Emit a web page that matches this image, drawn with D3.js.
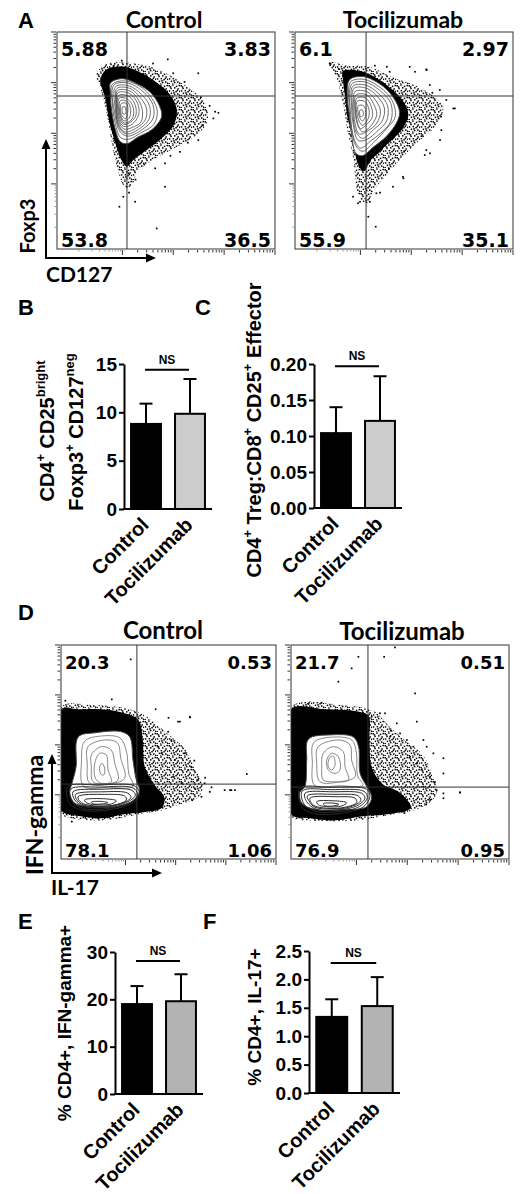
<!DOCTYPE html>
<html>
<head>
<meta charset="utf-8">
<script src="https://cdn.jsdelivr.net/npm/d3@7"></script>
<style>
  body { margin: 0; background: #fff; }
</style>
</head>
<body>
<svg id="fig" width="520" height="1194"></svg>
<script>
// ---------- data ----------
const groups = ["Control", "Tocilizumab"];

// B: CD4+ CD25bright Foxp3+ CD127neg
const tregMean = [8.8, 9.85];
const tregSd = [2.1, 3.6];
const tregTicks = [0, 5, 10, 15];
// C: Treg : effector ratio
const ratioMean = [0.104, 0.121];
const ratioSd = [0.036, 0.062];
const ratioTicks = [0, 0.05, 0.10, 0.15, 0.20];
// E: % CD4+ IFN-gamma+
const ifnMean = [19.0, 19.6];
const ifnSd = [3.8, 5.7];
const ifnTicks = [0, 10, 20, 30];
// F: % CD4+ IL-17+
const il17Mean = [1.34, 1.53];
const il17Sd = [0.31, 0.51];
const il17Ticks = [0, 0.5, 1.0, 1.5, 2.0, 2.5];
// height of the NS bracket, in each panel's units (B, C, E, F)
const nsLevel = [14.4, 0.197, 28.1, 2.29];

// flow plots, axis units 0-100 on both axes
// quadrant percentages: upper-left, upper-right, lower-left, lower-right
const a1Quad = ["5.88", "3.83", "53.8", "36.5"];
const a2Quad = ["6.1", "2.97", "55.9", "35.1"];
const d1Quad = ["20.3", "0.53", "78.1", "1.06"];
const d2Quad = ["21.7", "0.51", "76.9", "0.95"];
// gate position [x, y]
const a1Gate = [32.1, 70.5];
const a2Gate = [32.6, 70.5];
const d1Gate = [35.3, 35.0];
const d2Gate = [35.3, 33.6];

// A control (Foxp3 vs CD127)
const a1Sparse = [[18,80],[22,85],[31,86],[43,84],[52,80],[62,73],[68,67],[69,59],[64,52.5],[54,46.5],[44,41],[37,35.5],[34,29],[31,29],[28,36],[25,50],[22.5,64],[20,74]];
const a1Dense = [[20,79],[23,83],[31,84],[39,81],[46,76.5],[52,71],[55,64],[53.5,57],[48,51],[41,45.5],[35.5,41.5],[32,38],[29.5,41],[27,48],[24,58.5],[22,70],[20,76]];
const a1Outer = [[24.5,76.5],[30,78.5],[37,76],[43,72],[47,66],[48,61],[43.5,55],[37,51.5],[32,48.5],[29,49.5],[26.5,56],[24.8,66],[24.5,72]];
const a1Rings = [
  [[25.3,75.8],[31,77.5],[38,75],[43.5,69.5],[46,63.5],[44.5,57.5],[38.5,53.5],[32.5,50.5],[29,51.5],[26.5,59],[25.3,68]],
  [[26,75.5],[32.5,76.5],[39.5,72.5],[44,66.5],[44,60],[39,55],[32.5,52],[29,54],[26.5,62.5]],
  [[26.8,74.8],[33,75.2],[38.8,71.2],[42.5,65.8],[42.2,59.8],[37.5,55.2],[31.8,53],[28.5,56],[26.8,64.5]],
  [[27.5,74],[33.5,74],[38,70],[41,65],[40.5,59.5],[36,55.5],[31,54],[28,58],[27,67]],
  [[27.8,73],[33.5,72.8],[37.5,68.5],[39.2,63.5],[38.5,58.5],[34.5,56],[30.7,55.3],[28,59.5],[27.4,66]],
  [[28,72],[33.5,71.5],[37,67],[37.5,62],[34.5,57.5],[30.5,56.5],[28,61]],
  [[28.3,70.8],[33,70.3],[36,66],[36,61],[33,58],[30.5,57.5],[28.5,61]],
  [[28.5,69.5],[32.5,69],[35,65],[34.5,60],[31,58],[29,61]],
  [[29,68.3],[32.2,68],[33.8,64.2],[33,60.2],[30.8,59],[29.2,61.5]],
  [[29.5,67],[32,67],[32.5,63.5],[31.5,60],[29.5,62]],
  [[30,65.5],[31.2,65.5],[31.5,62.5],[30.3,62.2]]
];
const a1Dots = [[29.7,86.8],[50.8,87.4],[64.8,81],[53.3,81],[72.5,63.3],[71.7,60.2],[64.8,50.2],[56.4,44.8],[49.5,39.5],[45,37.2],[32.7,34.9],[32,28.7],[49.5,28.7],[30.4,24.1],[35.8,21.8],[28.6,19.5],[45.7,9.5],[74,62.8],[58.5,77],[66,70],[70,66],[67,57],[60,49],[52,43],[40,39],[36,32],[33,26],[26,84.5],[44,85.5]];

// A tocilizumab
const a2Sparse = [[16,86],[24,84.5],[34,84],[45,79],[56,75],[64,70],[68,65],[64,56],[56,49],[47,40],[41,33],[36,27],[33,21],[30,23],[28,29],[27,40],[24,55],[22,67],[19,79]];
const a2Dense = [[22,82],[30,82],[37,79],[44,74],[49,69],[52,62],[49,55],[43,49],[38,44],[34,40],[32,36],[30,37],[28,42],[27,50],[24,61],[23,70],[22,78]];
const a2Outer = [[25,78],[31,79.5],[39,76],[45,70],[48,63],[46.5,58],[42,52],[36,47],[31,43],[28,44],[26,52],[25,61],[24,70]];
const a2Rings = [
  [[25.5,77],[31.5,78.2],[39,74.5],[44.5,68.5],[46,61],[42,55.5],[36,49],[31,45],[28,47.5],[25.8,56],[24.8,66]],
  [[26,76],[32,77],[39,73],[44,67],[44,59],[40,54],[35,50],[30,46.5],[27,51],[25.5,62]],
  [[26.5,75],[32.5,75.5],[38.5,71.5],[42.5,66],[42,59],[38,54.5],[33,50.5],[29,50],[26.8,57],[26,65]],
  [[27,74],[33,74],[38,70],[41,65],[40,59],[36,55],[31,51],[28,54],[26.5,64]],
  [[27.5,72.5],[33,72.5],[37,68.5],[39.2,63.5],[37.5,58],[33.5,54.5],[29.5,53],[27.5,58],[27,65]],
  [[28,71],[33,71],[36,67],[37.5,62],[35,57],[31,54],[28.5,58],[27.5,65]],
  [[28.3,69.5],[32.5,69.5],[35,65.5],[35.5,61],[33,57.5],[30,55.5],[28.5,59]],
  [[28.5,68],[32,68],[34,64],[33.5,60],[31,57],[29,60]],
  [[29,66],[31.5,66],[32.5,62],[31,59],[29.5,61]],
  [[29.8,64],[31,64],[31.2,61.5],[30,61]]
];
const a2Dots = [[15.9,85.6],[36.6,84.5],[43.4,81.7],[52.6,84],[60.2,82.8],[61.8,75.6],[66.4,73.3],[69.4,68.7],[73.3,64.8],[67.1,54.8],[60.2,45.6],[59.5,43.3],[49.5,33.3],[44.9,28.7],[37.3,25.7],[34.3,21.8],[28.9,21.1],[26.6,24.1],[33.6,14.9],[37,10.3],[29.8,21.8],[39,26],[72.6,64.8],[66.5,50.2],[61.9,44.1],[49.7,32.6],[16.1,84.8],[60.4,82.5],[55,81.7],[42.1,84],[63,72],[67,61],[58,52],[50,45],[43,37],[20,83]];

// D control (IFN-gamma vs IL-17)
const d1Sparse = [[0,71],[14,72],[30,70.5],[40,66.5],[49,59],[58,51],[63,41],[66,34],[64,29],[57,26],[48,23],[37,21],[19,18],[5,19],[0,21]];
const d1Dense = [[0,70],[8,70],[19,70],[30,68],[36,65],[38,56],[39,43],[44,34],[48,29],[47,24],[39,22],[30,21],[19,19],[9,20],[3,21],[0,23]];
const d1Outer = [[8,57],[16,59],[28,59.5],[32,57],[33.5,46],[35,37],[36.5,32],[34,27.5],[25,24.5],[14,24.5],[6.5,26],[4,31],[5,35],[7,43]];
const d1Tower = [
  [[11,55],[19,57.5],[27.5,56.5],[30.5,50],[31.5,40],[33.5,34],[22,33.5],[10.5,34],[9.5,45]],
  [[12.6,52.5],[20.3,55.6],[26.2,54.3],[27.8,47.1],[29.6,37.7],[21.9,35],[13.3,35.4],[12.2,44.7]],
  [[14.1,48.6],[18.7,52.5],[23.4,50.9],[25,44.7],[26.5,36.9],[20.3,35],[14.9,36.1],[14.1,43.1]],
  [[15.7,44.7],[18,49.4],[21.1,48.6],[21.9,41.6],[23.4,36.1],[18.7,35.4],[16,37.7]],
  [[18,43.1],[19.1,44.7],[20.3,42.4],[20,39.3],[18.5,39.7]]
];
const d1Lobe = [
  [[3.3,33.8],[17.2,34.6],[34.3,34.1],[36.6,30.7],[34.3,26.8],[21.9,22.9],[9.5,22.9],[4,26]],
  [[4.5,32.6],[18,33.6],[33.5,33.2],[35.6,30.3],[32.8,26.8],[21,23.5],[10.2,23.6],[5.2,26.8]],
  [[5.6,31.4],[18.7,32.6],[32.7,32.2],[34.6,29.9],[31.2,26.8],[20.3,24.2],[11,24.4],[6.4,27.6]],
  [[6.8,30.2],[19.5,31.4],[31,30.8],[32.5,28.7],[28.2,26],[18,24.5],[10.2,25.3],[7.2,27.9]],
  [[7.9,29.1],[20.3,30.2],[29.6,29.4],[30.4,27.6],[25,25.2],[15.7,24.8],[9.5,26.3]],
  [[11,27.6],[18.7,28.2],[25.7,27.2],[23.4,25.7],[15.7,25.4],[11.8,26.3]],
  [[14.1,26.6],[18.7,26.9],[21.9,26.3],[18.7,25.7],[14.9,25.8]]
];
const d1Dots = [[59.9,66.5],[54.4,64.2],[49.8,59.5],[45.1,52.5],[51.3,55.6],[46.7,49.4],[52.9,46.3],[57.5,49.4],[60.6,43.1],[63.7,36.9],[59.1,41.6],[66.8,35.4],[69.2,31.4],[76.1,32.2],[79.2,32.2],[65.3,29.1],[62.2,33],[52.1,38.5],[56,35.4],[32.4,93.3],[23.6,74.6],[86.4,39.7],[78.6,32.2],[80.9,32.2],[60,66.2],[55.3,64.2],[44,70],[50,66],[62,46],[67,38],[70,33.5],[61,27.5],[5,17.5],[2,74]];

// D tocilizumab
const d2Sparse = [[0,71],[22.5,72],[38,69],[45,62],[52,55.6],[61,48],[65,38.5],[67,32],[65,27.6],[57,23],[45,20.6],[30,18],[9,18],[0,20]];
const d2Dense = [[0,70],[15,70],[30,69],[35.5,67],[36,56],[37,43],[42,35],[50,31],[55,24],[45,21],[33,20],[19,18],[9,19],[0,21]];
const d2Outer = [[8,56],[18,58],[28.6,57],[31,52.5],[31.7,40],[34.7,34],[37,29],[34.7,24.4],[24,23],[12,23],[5,26],[4,31],[6.4,34],[7.2,46]];
const d2Tower = [
  [[10.5,54.5],[20,57],[28,55.5],[30,49.5],[30.5,39],[33,34.5],[22,34.2],[10.8,34.5],[9.8,45]],
  [[12.5,52.5],[22.5,55.6],[27.1,53.3],[27.8,46.3],[29.4,38.5],[22.5,36.1],[13.3,36.1],[11.8,44.7]],
  [[14.8,49.4],[19.4,52.5],[24,50.1],[24.8,43.1],[26.3,36.9],[19.4,36.1],[14.8,36.9],[14.1,43.1]],
  [[16.4,46.3],[18.7,49.4],[21.7,47.8],[22.5,41.6],[20.2,40],[17.1,41.6]],
  [[17.6,47.1],[19.4,48.1],[20.2,43.9],[18.7,41.6],[17.1,43.1]]
];
const d2Lobe = [
  [[4.1,33],[17.9,33.5],[34.7,32.6],[36.2,29.1],[33.2,24.4],[22.5,21.3],[10.2,21.3],[4.9,24.4]],
  [[5.2,31.8],[18.6,32.4],[33.5,31.6],[35,28.7],[31.6,24.6],[21.7,22.1],[11,22.3],[6,25.6]],
  [[6.4,30.7],[19.4,31.4],[32.4,30.7],[33.9,28.4],[30.1,24.8],[21,22.9],[11.8,23.2],[7.2,26.8]],
  [[7.5,29.5],[20.2,30.2],[30.8,29.5],[32,27.3],[27.5,24.5],[18.7,23.3],[11,24.2],[8.6,26.6]],
  [[8.7,28.4],[21,29.1],[29.4,28.4],[30.1,26.3],[24.8,24.2],[16.4,23.7],[10.2,25.2]],
  [[11.8,26.8],[19.4,27.2],[25.5,26.3],[23.3,24.8],[16.4,24.4],[12.5,25.4]],
  [[14.8,25.9],[19.4,26.1],[22,25.5],[19.4,24.8],[15.6,24.9]]
];
const d2Dots = [[23.2,69.9],[40.8,68.1],[43.1,68.1],[37,66.5],[48.5,63.4],[57.7,64.2],[50,58.7],[45.4,57.2],[53.1,55.6],[60.7,55.6],[62.2,52.5],[56.1,52.5],[54.6,47.8],[65.3,49.4],[69.9,47.1],[69.9,40],[57.7,44.7],[63.8,38.5],[66.8,32.2],[69.9,30.7],[69.9,28.4],[77.5,31],[60.7,33.8],[63.8,27.6],[42.7,94.5],[56.9,77.4],[21.7,82.9],[30.9,94.5],[27.8,89.1],[77.5,31.2],[47.7,98.9],[8,72.5],[14,73],[46,60],[60,42],[66,36],[62,25.5],[52,21.5]];

// ---------- drawing ----------
const FL = "Lato, 'Open Sans', sans-serif";
const FQ = "'DejaVu Sans', Verdana, sans-serif";
const FA = "'Liberation Sans', Arial, Helvetica, sans-serif";

const svg = d3.select("#fig");
const defs = svg.append("defs");

// irregular stipple used for the thin edge of each event cloud
const pat = defs.append("pattern")
  .attr("id", "stip")
  .attr("width", 12).attr("height", 12)
  .attr("patternUnits", "userSpaceOnUse");
[[0.5,1],[4.2,0.3],[7.8,1.6],[10.5,0.8],[2.3,3.7],[6,3.1],[9.4,4.2],[0.8,6.2],[4.6,5.9],
 [7.3,7],[11,6.6],[2.7,8.6],[5.9,9.8],[9,9.3],[0.4,10.9],[3.9,11.4],[7.6,11.8],[10.9,10.5],
 [1.8,2.2],[8.6,5.7],[5.2,8.1]].forEach(function(p) {
  pat.append("rect").attr("x", p[0]).attr("y", p[1]).attr("width", 1.5).attr("height", 1.5).attr("fill", "#000");
});

function label(txt, x, y, size, family, anchor) {
  return svg.append("text")
    .attr("x", x).attr("y", y)
    .attr("font-family", family)
    .attr("font-weight", "bold")
    .attr("font-size", size)
    .attr("text-anchor", anchor || "start")
    .attr("fill", "#000")
    .text(txt);
}

// text with superscripts, rotated about its centre
function richLabel(x, y, parts, size, rot) {
  const t = svg.append("text")
    .attr("transform", `translate(${x},${y}) rotate(${rot})`)
    .attr("text-anchor", "middle")
    .attr("font-family", FA)
    .attr("font-weight", "bold")
    .attr("font-size", size);
  let up = false;
  parts.forEach(function(p) {
    const sup = p[1] === 1;
    let dy = 0;
    if (sup && !up) dy = -0.42 * size;
    if (!sup && up) dy = 0.42 * size;
    up = sup;
    t.append("tspan")
      .attr("dy", dy)
      .attr("font-size", sup ? size * 0.65 : size)
      .text(p[0]);
  });
}

function flowPlot(box, d) {
  const x = d3.scaleLinear().domain([0, 100]).range([box.x, box.x + box.w]);
  const y = d3.scaleLinear().domain([0, 100]).range([box.y + box.h, box.y]);
  const g = svg.append("g");

  defs.append("clipPath").attr("id", "clip-" + box.id)
    .append("rect")
    .attr("x", box.x).attr("y", box.y)
    .attr("width", box.w).attr("height", box.h);

  const inner = g.append("g").attr("clip-path", `url(#clip-${box.id})`);
  const shape = d3.line()
    .x(p => x(p[0])).y(p => y(p[1]))
    .curve(d3.curveCatmullRomClosed.alpha(0.5));

  inner.append("path").datum(d.sparse).attr("d", shape).attr("fill", "url(#stip)");
  inner.append("path").datum(d.dense).attr("d", shape).attr("fill", "#000");
  inner.append("path").datum(d.outer).attr("d", shape)
    .attr("fill", "#fff").attr("stroke", "#444").attr("stroke-width", 1);

  inner.selectAll(".ringA").data(d.rings).join("path")
    .attr("d", shape).attr("fill", "none")
    .attr("stroke", d.ringColor).attr("stroke-width", 0.8);
  if (d.lobe) {
    inner.selectAll(".ringB").data(d.lobe).join("path")
      .attr("d", shape).attr("fill", "none")
      .attr("stroke", "#2a2a2a").attr("stroke-width", 1);
  }

  inner.selectAll(".ev").data(d.dots).join("rect")
    .attr("x", p => x(p[0]) - 0.8).attr("y", p => y(p[1]) - 0.8)
    .attr("width", 1.7).attr("height", 1.7).attr("fill", "#000");

  // quadrant gate
  g.append("line")
    .attr("x1", x(d.gate[0])).attr("x2", x(d.gate[0]))
    .attr("y1", y(0)).attr("y2", y(100))
    .attr("stroke", "#333").attr("stroke-width", 1);
  g.append("line")
    .attr("x1", x(0)).attr("x2", x(100))
    .attr("y1", y(d.gate[1])).attr("y2", y(d.gate[1]))
    .attr("stroke", "#333").attr("stroke-width", 1);

  g.append("rect")
    .attr("x", box.x).attr("y", box.y)
    .attr("width", box.w).attr("height", box.h)
    .attr("fill", "none").attr("stroke", "#333").attr("stroke-width", 1);

  // biexponential-looking log ticks on bottom and left
  const decade = d3.scaleLog().domain([1e2, 1e5]).range([30, 100]);
  const negDecade = d3.scaleLog().domain([100, 10]).range([30, 10]);
  const pos = decade.ticks().map(v => ({ u: decade(v), major: Math.log10(v) % 1 === 0, neg: false }));
  const neg = negDecade.ticks().filter(v => v < 100).map(v => ({ u: negDecade(v), major: false, neg: true }));
  const ticks = pos.concat(neg);

  g.selectAll(".bt").data(ticks).join("line")
    .attr("x1", t => x(t.u)).attr("x2", t => x(t.u))
    .attr("y1", y(0) + 1).attr("y2", t => y(0) + (t.major ? 6 : t.neg ? 2.5 : 3.5))
    .attr("stroke", t => t.neg ? "#999" : "#333").attr("stroke-width", 1);
  g.selectAll(".lt").data(ticks).join("line")
    .attr("y1", t => y(t.u)).attr("y2", t => y(t.u))
    .attr("x1", x(0) - 1).attr("x2", t => x(0) - (t.major ? 6 : t.neg ? 2.5 : 3.5))
    .attr("stroke", t => t.neg ? "#999" : "#333").attr("stroke-width", 1);

  // quadrant numbers
  const fs = d.quadSize;
  label(d.quad[0], box.x + 4, box.y + 24, fs, FQ);
  label(d.quad[1], box.x + box.w - 4, box.y + 24, fs, FQ, "end");
  label(d.quad[2], box.x + 4, box.y + box.h - 2, fs, FQ);
  label(d.quad[3], box.x + box.w - 4, box.y + box.h - 2, fs, FQ, "end");
}

function arrowAxes(ox, oy, topY, rightX) {
  const g = svg.append("g").attr("stroke", "#000").attr("stroke-width", 2);
  g.append("line").attr("x1", ox).attr("y1", oy).attr("x2", ox).attr("y2", topY + 7);
  g.append("line").attr("x1", ox - 1).attr("y1", oy).attr("x2", rightX - 7).attr("y2", oy);
  svg.append("path")
    .attr("d", `M${ox},${topY} L${ox - 4.5},${topY + 10} L${ox + 4.5},${topY + 10} Z`)
    .attr("fill", "#000");
  svg.append("path")
    .attr("d", `M${rightX},${oy} L${rightX - 10},${oy - 4.5} L${rightX - 10},${oy + 4.5} Z`)
    .attr("fill", "#000");
}

function barPanel(p) {
  const x = d3.scaleBand().domain(groups).range([p.left, p.right])
    .paddingInner(0.32).paddingOuter(0.16);
  const y = d3.scaleLinear().domain([0, p.max]).range([p.bottom, p.top]);
  const g = svg.append("g");

  g.selectAll(".bar").data(groups).join("rect")
    .attr("x", k => x(k))
    .attr("y", (k, i) => y(p.mean[i]))
    .attr("width", x.bandwidth())
    .attr("height", (k, i) => y(0) - y(p.mean[i]))
    .attr("fill", (k, i) => i === 0 ? "#000" : p.gray)
    .attr("stroke", "#000").attr("stroke-width", 2);

  const cx = k => x(k) + x.bandwidth() / 2;
  g.selectAll(".err").data(groups).join("line")
    .attr("x1", cx).attr("x2", cx)
    .attr("y1", (k, i) => y(p.mean[i]))
    .attr("y2", (k, i) => y(p.mean[i] + p.sd[i]))
    .attr("stroke", "#000").attr("stroke-width", 2);
  g.selectAll(".cap").data(groups).join("line")
    .attr("x1", k => cx(k) - 6.5).attr("x2", k => cx(k) + 6.5)
    .attr("y1", (k, i) => y(p.mean[i] + p.sd[i]))
    .attr("y2", (k, i) => y(p.mean[i] + p.sd[i]))
    .attr("stroke", "#000").attr("stroke-width", 2);

  const ax = g.append("g")
    .attr("transform", `translate(${p.left},0)`)
    .call(d3.axisLeft(y).tickValues(p.ticks).tickSize(5).tickPadding(2)
      .tickSizeOuter(0).tickFormat(d3.format(p.fmt)));
  ax.selectAll("path, line").attr("stroke", "#000").attr("stroke-width", 2);
  ax.selectAll("text")
    .attr("font-family", FA).attr("font-weight", "bold")
    .attr("font-size", 19).attr("fill", "#000");

  g.append("line")
    .attr("x1", p.left - 1).attr("x2", p.right)
    .attr("y1", y(0)).attr("y2", y(0))
    .attr("stroke", "#000").attr("stroke-width", 2);

  // category labels
  g.selectAll(".cat").data(groups).join("text")
    .attr("transform", k => `translate(${cx(k) + 4},${y(0) + 17}) rotate(-45)`)
    .attr("text-anchor", "end")
    .attr("font-family", FA).attr("font-weight", "bold")
    .attr("font-size", 20)
    .text(k => k);

  // NS bracket
  g.append("line")
    .attr("x1", cx(groups[0]) - 1).attr("x2", cx(groups[1]) - 1)
    .attr("y1", y(p.ns)).attr("y2", y(p.ns))
    .attr("stroke", "#000").attr("stroke-width", 2);
  g.append("text")
    .attr("x", (cx(groups[0]) + cx(groups[1])) / 2 - 1)
    .attr("y", y(p.ns) - 6)
    .attr("text-anchor", "middle")
    .attr("font-family", FA).attr("font-weight", "bold")
    .attr("font-size", 12)
    .text("NS");
}

// ---------- panel A ----------
label("A", 18, 28, 22, FA);
label("Control", 164, 28, 23, FL, "middle");
label("Tocilizumab", 403, 28, 23, FL, "middle");
flowPlot({ id: "a1", x: 57, y: 32, w: 218, h: 217 },
  { sparse: a1Sparse, dense: a1Dense, outer: a1Outer, rings: a1Rings, ringColor: "#4a4a4a",
    dots: a1Dots, gate: a1Gate, quad: a1Quad, quadSize: 19 });
flowPlot({ id: "a2", x: 295, y: 32, w: 218, h: 217 },
  { sparse: a2Sparse, dense: a2Dense, outer: a2Outer, rings: a2Rings, ringColor: "#4a4a4a",
    dots: a2Dots, gate: a2Gate, quad: a2Quad, quadSize: 19 });
arrowAxes(46, 258, 139, 156);
svg.append("text")
  .attr("transform", "translate(34.5,226) rotate(-90)")
  .attr("text-anchor", "middle")
  .attr("font-family", FL).attr("font-weight", "bold").attr("font-size", 20)
  .text("Foxp3");
label("CD127", 46, 282, 21, FL);

// ---------- panels B, C ----------
label("B", 18, 315, 22, FA);
label("C", 195, 315, 22, FA);
barPanel({ left: 124, right: 212, top: 364, bottom: 509, max: 15, ticks: tregTicks, fmt: "d",
  mean: tregMean, sd: tregSd, gray: "#cccccc", ns: nsLevel[0] });
barPanel({ left: 314, right: 402, top: 364, bottom: 508, max: 0.2, ticks: ratioTicks, fmt: ".2f",
  mean: ratioMean, sd: ratioSd, gray: "#cccccc", ns: nsLevel[1] });
richLabel(53.5, 431, [["CD4"], ["+", 1], [" CD25"], ["bright", 1]], 20, -90);
richLabel(82.5, 432, [["Foxp3"], ["+", 1], [" CD127"], ["neg", 1]], 20, -90);
richLabel(260.5, 430, [["CD4"], ["+", 1], [" Treg:CD8"], ["+", 1], [" CD25"], ["+", 1], [" Effector"]], 20, -90);

// ---------- panel D ----------
label("D", 18, 620, 22, FA);
label("Control", 163, 639, 24, FL, "middle");
label("Tocilizumab", 402, 640, 24, FL, "middle");
flowPlot({ id: "d1", x: 61, y: 645, w: 215, h: 214 },
  { sparse: d1Sparse, dense: d1Dense, outer: d1Outer, rings: d1Tower, ringColor: "#6a6a6a", lobe: d1Lobe,
    dots: d1Dots, gate: d1Gate, quad: d1Quad, quadSize: 18 });
flowPlot({ id: "d2", x: 291, y: 645, w: 218, h: 214 },
  { sparse: d2Sparse, dense: d2Dense, outer: d2Outer, rings: d2Tower, ringColor: "#6a6a6a", lobe: d2Lobe,
    dots: d2Dots, gate: d2Gate, quad: d2Quad, quadSize: 18 });
arrowAxes(52, 873, 754, 162);
svg.append("text")
  .attr("transform", "translate(43,815) rotate(-90)")
  .attr("text-anchor", "middle")
  .attr("font-family", FL).attr("font-weight", "bold").attr("font-size", 23)
  .text("IFN-gamma");
label("IL-17", 51, 895, 21, FL);

// ---------- panels E, F ----------
label("E", 18, 929, 22, FA);
label("F", 203, 929, 22, FA);
barPanel({ left: 115, right: 203, top: 952, bottom: 1094, max: 30, ticks: ifnTicks, fmt: "d",
  mean: ifnMean, sd: ifnSd, gray: "#b3b3b3", ns: nsLevel[2] });
barPanel({ left: 309, right: 400, top: 951, bottom: 1093, max: 2.5, ticks: il17Ticks, fmt: ".1f",
  mean: il17Mean, sd: il17Sd, gray: "#b3b3b3", ns: nsLevel[3] });
richLabel(70.5, 1023, [["% CD4+, IFN-gamma+"]], 19, -90);
richLabel(260.5, 1017, [["% CD4+, IL-17+"]], 19, -90);
</script>
</body>
</html>
